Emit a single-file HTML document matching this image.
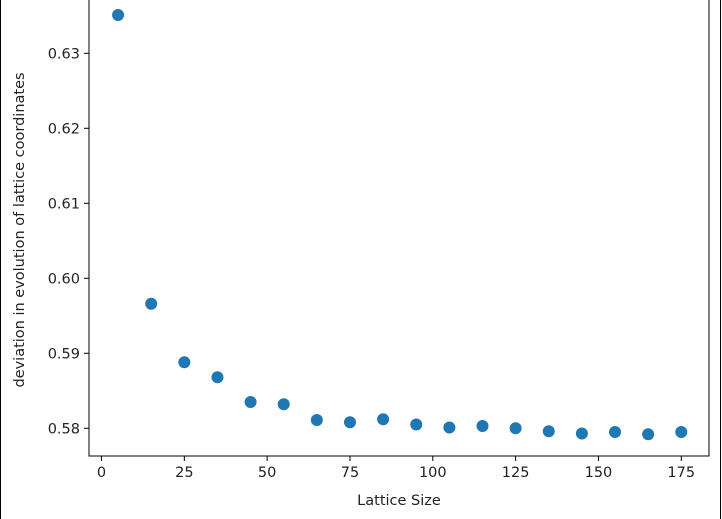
<!DOCTYPE html>
<html><head><meta charset="utf-8"><style>
body{margin:0;background:#fff;}
svg{display:block;font-family:"DejaVu Sans","Liberation Sans",sans-serif;}
</style></head><body>
<svg id="chart" width="722" height="519">
<rect x="0.5" y="-2" width="720" height="530" fill="#fff" stroke="#000" stroke-width="1"/>
<g id="plot"></g>
</svg>
<script>
const xValues=[5,15,25,35,45,55,65,75,85,95,105,115,125,135,145,155,165,175];
const yValues=[0.6351,0.5966,0.5888,0.5868,0.5835,0.5832,0.5811,0.5808,0.5812,0.5805,0.5801,0.5803,0.5800,0.5796,0.5793,0.5795,0.5792,0.5795];
const xTicks=[0,25,50,75,100,125,150,175];
const yTicks=[0.58,0.59,0.60,0.61,0.62,0.63];
const yTickLabels=["0.58","0.59","0.60","0.61","0.62","0.63"];

const NS="http://www.w3.org/2000/svg";
const g=document.getElementById('plot');
const L=89,R=709,T=-10,B=456;
function sx(v){return 101.5+v*3.313;}
function sy(v){return 428.3-(v-0.58)*7500;}
function mk(tag,attrs,parent){const e=document.createElementNS(NS,tag);for(const k in attrs)e.setAttribute(k,attrs[k]);(parent||g).appendChild(e);return e;}

const frame=mk('rect',{x:L,y:T,width:R-L,height:B-T,fill:'none',stroke:'#000','stroke-width':1});



xTicks.forEach(v=>{
  const x=sx(v);
  const t=mk('line',{x1:x,x2:x,y1:B,y2:B+5,stroke:'#000'});
  
  
  const l=mk('text',{x:x,y:B+21,'text-anchor':'middle','font-size':14.5,fill:'#222'});
  l.textContent=String(v);
  
  
});
yTicks.forEach((v,i)=>{
  const y=sy(v);
  const t=mk('line',{x1:L-5,x2:L,y1:y,y2:y,stroke:'#000'});
  
  
  const l=mk('text',{x:L-9,y:y+5,'text-anchor':'end','font-size':14.5,fill:'#222'});
  l.textContent=yTickLabels[i];
  
  
});
xValues.forEach((xv,i)=>{
  const c=mk('circle',{cx:sx(xv),cy:sy(yValues[i]),r:6,fill:'#1f77b4'});
  
  
});
const xt=mk('text',{x:399,y:505,'text-anchor':'middle','font-size':14.5,fill:'#222'});
xt.textContent='Lattice Size';


const yt=mk('text',{x:0,y:0,'text-anchor':'middle','font-size':14.5,fill:'#222',transform:'translate(24,230) rotate(-90)'});
yt.textContent='deviation in evolution of lattice coordinates';


</script>
</body></html>
